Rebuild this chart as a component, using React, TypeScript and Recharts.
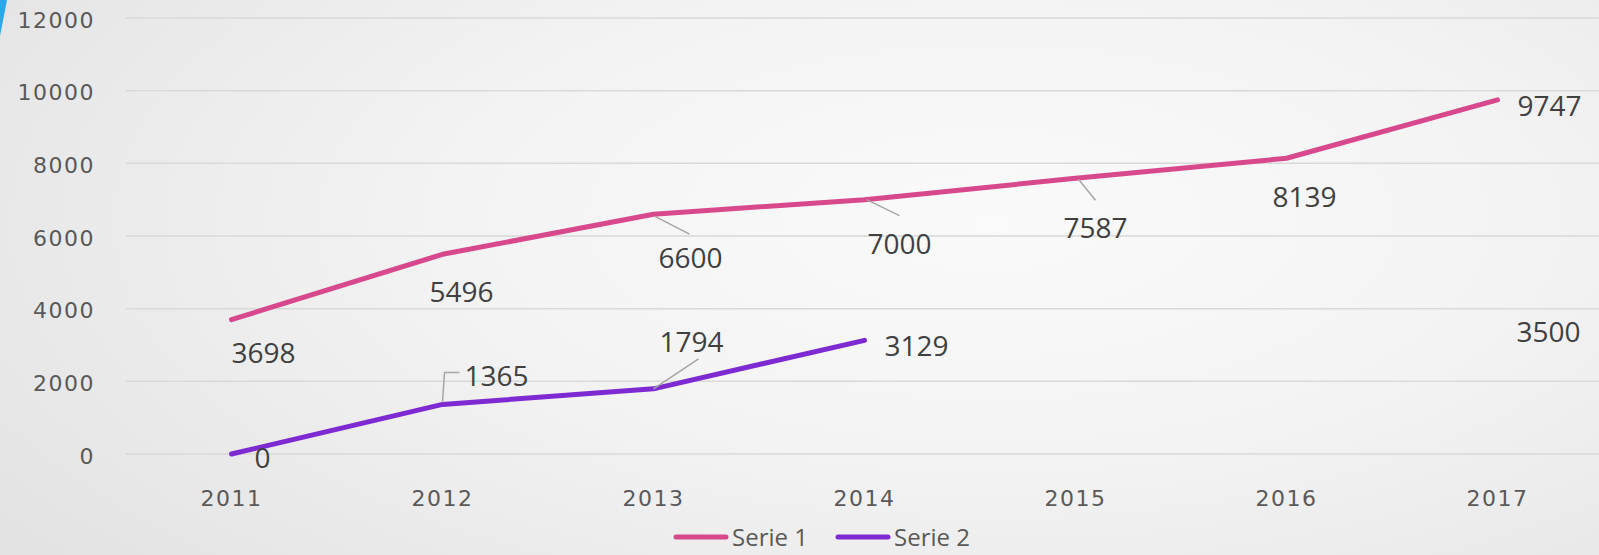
import React from 'react';
import { LineChart, Line, XAxis, YAxis, CartesianGrid, Legend, LabelList } from 'recharts';

// ---- data ----
const years = ['2011', '2012', '2013', '2014', '2015', '2016', '2017'];
const serie1 = [3698, 5496, 6600, 7000, 7587, 8139, 9747];
const serie2: (number | null)[] = [0, 1365, 1794, 3129, null, null, 3500];
const yTicks = [0, 2000, 4000, 6000, 8000, 10000, 12000];
const seriesNames = ['Serie 1', 'Serie 2'];

// ---- styling / layout config ----
const colors = ['#D8488C', '#7E2AD2'];
const s1LabelOffsets = [[32, 32], [19, 37], [37, 43], [35, 43], [20, 49], [18, 38], [52, 5]];
const s2LabelOffsets = [[31, 3], [54, -29], [38, -48], [52, 5], [0, 0], [0, 0], [51, 4]];
const s1Leaders: (number[][] | null)[] = [null, null, [[1, 2], [36, 20]], [[2, 0], [35, 16]], [[3, 1], [20, 22]], null, null];
const s2Leaders: (number[][] | null)[] = [null, [[0, -2], [2, -32], [17, -32]], [[0, 0], [45, -30]], null, null, null, null];

// An isolated point (no neighbour with a value) gets no line segment, like the original (no markers).
const hasNeighbour = (arr: (number | null)[], i: number) =>
  (i > 0 && arr[i - 1] != null) || (i < arr.length - 1 && arr[i + 1] != null);

const data = years.map((y, i) => ({
  year: y,
  s1: serie1[i],
  s2: serie2[i],
  s2Line: serie2[i] != null && hasNeighbour(serie2, i) ? serie2[i] : null,
}));

const makeLabel = (offsets: number[][], leaders: (number[][] | null)[]) => (p: any) => {
  const { index, value } = p;
  const x = p.x ?? p.viewBox?.x;
  const y = p.y ?? p.viewBox?.y;
  if (value === null || value === undefined || x == null || y == null) return null;
  const [dx, dy] = offsets[index] || [0, 0];
  const leader = leaders[index];
  return (
    <g>
      {leader && (
        <polyline
          points={leader.map(([lx, ly]) => `${x + lx},${y + ly}`).join(' ')}
          fill="none"
          stroke="#a6a6a6"
          strokeWidth={1.5}
        />
      )}
      <text
        x={x + dx}
        y={y + dy}
        textAnchor="middle"
        dominantBaseline="central"
        fontFamily="'Open Sans', sans-serif"
        fontSize={28}
        fill="#404040"
      >
        {value}
      </text>
    </g>
  );
};

const YTick = (p: any) => (
  <text
    x={p.x}
    y={p.y + 2}
    textAnchor="end"
    dominantBaseline="central"
    fontFamily="'DejaVu Sans', sans-serif"
    fontSize={22}
    letterSpacing={1.5}
    fill="#595959"
  >
    {p.payload.value}
  </text>
);

const XTick = (p: any) => (
  <text
    x={p.x}
    y={p.y + 38}
    textAnchor="middle"
    dominantBaseline="central"
    fontFamily="'DejaVu Sans', sans-serif"
    fontSize={22}
    letterSpacing={1.5}
    fill="#595959"
  >
    {p.payload.value}
  </text>
);

const renderLegend = () => (
  <div
    style={{
      display: 'flex',
      justifyContent: 'center',
      alignItems: 'center',
      height: 30,
      paddingBottom: 6,
      paddingLeft: 44,
      boxSizing: 'border-box',
      width: 1599,
    }}
  >
    {seriesNames.map((n, i) => (
      <div key={n} style={{ display: 'flex', alignItems: 'center', marginRight: i === 0 ? 27 : 0 }}>
        <svg width={56} height={8}>
          <line x1={3} y1={4} x2={53} y2={4} stroke={colors[i]} strokeWidth={5} strokeLinecap="round" />
        </svg>
        <span
          style={{
            marginLeft: 3,
            fontSize: 24,
            lineHeight: '24px',
            color: '#595959',
            fontFamily: "'Open Sans', sans-serif",
          }}
        >
          {n}
        </span>
      </div>
    ))}
  </div>
);

export default function App() {
  return (
    <div
      style={{
        position: 'absolute',
        left: 0,
        top: 0,
        width: 1599,
        height: 555,
        overflow: 'hidden',
        background:
          'radial-gradient(ellipse 75% 95% at 62% 40%, #fafafa 0%, #f3f3f3 45%, #e3e3e3 100%)',
      }}
    >
      <div
        style={{
          position: 'absolute',
          left: 0,
          top: 0,
          width: 8,
          height: 36,
          background: '#2AA8EA',
          clipPath: 'polygon(0 0, 7px 0, 0 36px)',
        }}
      />
      <LineChart width={1599} height={555} data={data} margin={{ top: 18, right: 0, bottom: 0, left: 0 }}>
        <CartesianGrid horizontal vertical={false} stroke="#d9d9d9" strokeWidth={1.5} />
        <XAxis
          dataKey="year"
          axisLine={false}
          tickLine={false}
          height={71}
          tickMargin={0}
          padding={{ left: 105.5, right: 101.5 }}
          tick={<XTick />}
          interval={0}
        />
        <YAxis
          domain={[0, 12000]}
          ticks={yTicks}
          axisLine={false}
          tickLine={false}
          width={126}
          tickMargin={25}
          tick={<YTick />}
          interval={0}
        />
        <Legend verticalAlign="bottom" content={renderLegend} wrapperStyle={{ left: 0, width: 1599 }} />
        <Line
          type="linear"
          dataKey="s1"
          name={seriesNames[0]}
          stroke={colors[0]}
          strokeWidth={5}
          strokeLinecap="round"
          strokeLinejoin="round"
          dot={false}
          activeDot={false}
          isAnimationActive={false}
        >
          <LabelList dataKey="s1" content={makeLabel(s1LabelOffsets, s1Leaders)} />
        </Line>
        <Line
          type="linear"
          dataKey="s2Line"
          name={seriesNames[1]}
          stroke={colors[1]}
          strokeWidth={5}
          strokeLinecap="round"
          strokeLinejoin="round"
          dot={false}
          activeDot={false}
          connectNulls={false}
          isAnimationActive={false}
        />
        <Line
          type="linear"
          dataKey="s2"
          legendType="none"
          stroke="none"
          dot={false}
          activeDot={false}
          connectNulls={false}
          isAnimationActive={false}
        >
          <LabelList dataKey="s2" content={makeLabel(s2LabelOffsets, s2Leaders)} />
        </Line>
      </LineChart>
    </div>
  );
}
